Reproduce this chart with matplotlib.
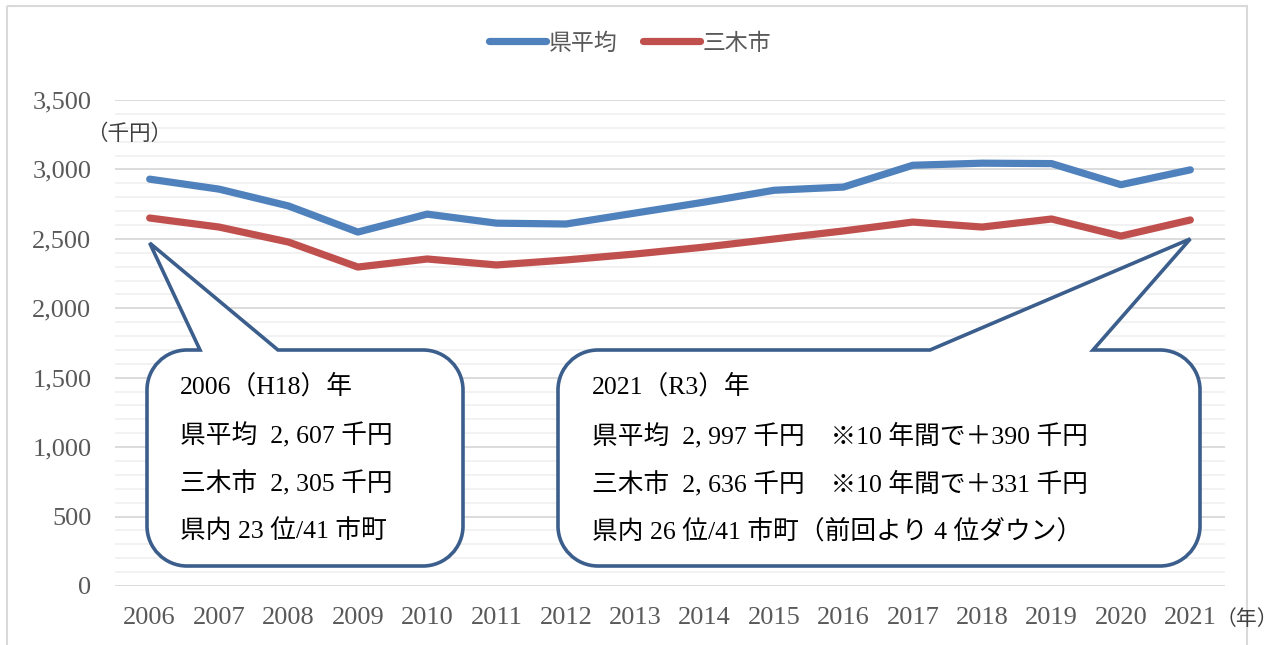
import matplotlib
matplotlib.use("Agg")
import matplotlib.pyplot as plt
from matplotlib.path import Path
from matplotlib.patches import PathPatch, Rectangle
from matplotlib.transforms import Affine2D
from matplotlib.ticker import MultipleLocator, FuncFormatter

years = [str(y) for y in range(2006, 2022)]
pref_avg = [2930, 2858, 2737, 2549, 2678, 2613, 2607, 2686, 2765, 2850, 2873, 3030, 3045, 3042, 2890, 2997]
miki = [2650, 2585, 2477, 2297, 2355, 2312, 2348, 2391, 2441, 2499, 2557, 2621, 2585, 2643, 2520, 2636]
series_names = ["県平均", "三木市"]

left_lines = ["2006（H18）年", "県平均  2, 607 千円", "三木市  2, 305 千円", "県内 23 位/41 市町"]
right_lines = ["2021（R3）年", "県平均  2, 997 千円　※10 年間で＋390 千円",
               "三木市  2, 636 千円　※10 年間で＋331 千円", "県内 26 位/41 市町（前回より 4 位ダウン）"]

W, H = 1283, 645
SERIF = ["Liberation Serif", "Noto Sans CJK JP"]
SANS = ["Noto Sans CJK JP", "DejaVu Sans"]

fig = plt.figure(figsize=(W / 100, H / 100), dpi=100)
ax = fig.add_axes([115 / W, (H - 586) / H, (1225 - 115) / W, (586 - 100) / H])

x = list(range(len(years)))
ax.plot(x, pref_avg, color="#4F81BD", lw=5.2, solid_capstyle="round", solid_joinstyle="round", label=series_names[0], zorder=3)
ax.plot(x, miki, color="#C0504D", lw=5.2, solid_capstyle="round", solid_joinstyle="round", label=series_names[1], zorder=3)

ax.set_xlim(-0.5, len(years) - 0.5)
ax.set_ylim(0, 3500)
ax.set_xticks(x)
ax.set_xticklabels(years)
ax.yaxis.set_major_locator(MultipleLocator(500))
ax.yaxis.set_minor_locator(MultipleLocator(100))
ax.yaxis.set_major_formatter(FuncFormatter(lambda v, p: f"{int(v):,}"))
ax.grid(axis="y", which="major", color="#D9D9D9", lw=1.3, zorder=0)
ax.grid(axis="y", which="minor", color="#F0F0F0", lw=1.2, zorder=0)
ax.set_axisbelow(True)
for s in ax.spines.values():
    s.set_visible(False)
ax.tick_params(axis="both", which="both", length=0)
ax.tick_params(axis="x", pad=15)
ax.tick_params(axis="y", pad=17)
for lab in ax.get_xticklabels() + ax.get_yticklabels():
    lab.set_fontfamily(SERIF)
    lab.set_fontsize(19)
    lab.set_color("#595959")

leg = ax.legend(loc="center", bbox_to_anchor=(630 / W, 1 - 43 / H), bbox_transform=fig.transFigure,
                ncol=2, frameon=False, handlelength=2.5, handletextpad=0.12, columnspacing=1.1,
                prop={"family": SANS, "size": 16.5})
for t in leg.get_texts():
    t.set_color("#595959")

# pixel (top-down) transform
px = Affine2D().scale(1, -1).translate(0, H)

def to_px(xd, yd):
    dx, dy = ax.transData.transform((xd, yd))
    return dx, H - dy

def callout(x0, y0, x1, y1, b1, b2, tip, r=40):
    k = 0.5523 * r
    verts = [(x0 + r, y0), (b1, y0), tip, (b2, y0), (x1 - r, y0),
             (x1 - r + k, y0), (x1, y0 + r - k), (x1, y0 + r),
             (x1, y1 - r),
             (x1, y1 - r + k), (x1 - r + k, y1), (x1 - r, y1),
             (x0 + r, y1),
             (x0 + r - k, y1), (x0, y1 - r + k), (x0, y1 - r),
             (x0, y0 + r),
             (x0, y0 + r - k), (x0 + r - k, y0), (x0 + r, y0),
             (x0 + r, y0)]
    codes = [Path.MOVETO, Path.LINETO, Path.LINETO, Path.LINETO, Path.LINETO,
             Path.CURVE4, Path.CURVE4, Path.CURVE4,
             Path.LINETO,
             Path.CURVE4, Path.CURVE4, Path.CURVE4,
             Path.LINETO,
             Path.CURVE4, Path.CURVE4, Path.CURVE4,
             Path.LINETO,
             Path.CURVE4, Path.CURVE4, Path.CURVE4,
             Path.CLOSEPOLY]
    patch = PathPatch(Path(verts, codes), facecolor="white", edgecolor="#3B5E8C",
                      lw=2.6, transform=px, zorder=5, joinstyle="miter")
    fig.add_artist(patch)

callout(147, 350, 463, 566, 200, 278, to_px(0, 2470))
callout(558, 350, 1200, 566, 930, 1093, to_px(15, 2500))

line_y = [386, 436, 484, 531]
for txt, yy in zip(left_lines, line_y):
    fig.text(180, yy, txt, transform=px, fontfamily=SERIF, fontsize=18.5, color="black",
             va="center", ha="left", zorder=6)
for txt, yy in zip(right_lines, line_y):
    fig.text(592, yy, txt, transform=px, fontfamily=SERIF, fontsize=18.5, color="black",
             va="center", ha="left", zorder=6)

fig.text(86, 135, "（千円）", transform=px, fontfamily=SERIF, fontsize=15.5, color="#404040",
         va="center", ha="left")
fig.text(1216, 620, "（年）", transform=px, fontfamily=SERIF, fontsize=15, color="#404040",
         va="center", ha="left")

# outer frame
fig.add_artist(Rectangle((7, 6), 1240, 700, transform=px, fill=False, edgecolor="#D9D9D9", lw=1.5, zorder=0))

fig.savefig("out.png", dpi=100)
